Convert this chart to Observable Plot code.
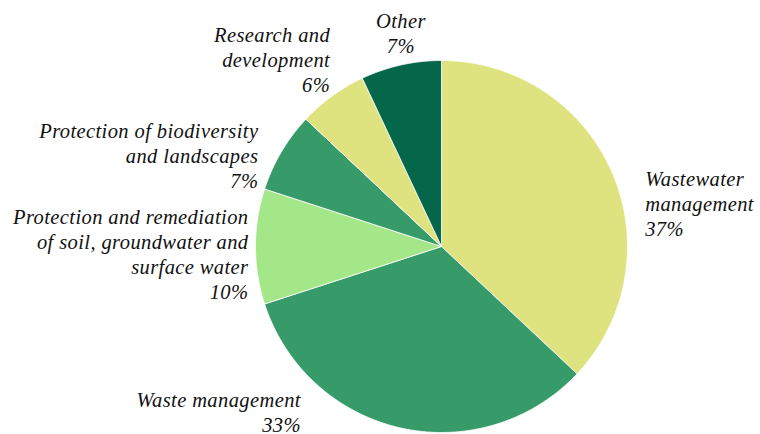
<!DOCTYPE html>
<html>
<head>
<meta charset="utf-8">
<script src="https://cdn.jsdelivr.net/npm/d3@7"></script>
<script src="https://cdn.jsdelivr.net/npm/@observablehq/plot@0.6"></script>
<style>
  html, body { margin: 0; padding: 0; background: #ffffff; }
  #chart { width: 760px; height: 434px; }
  #chart svg text { font-family: "Liberation Serif", "Times New Roman", Tinos, "DejaVu Serif", serif !important; }
</style>
</head>
<body>
<div id="chart"></div>
<script>
// ---- data ----
const categories = [
  "Wastewater management",
  "Waste management",
  "Protection and remediation of soil, groundwater and surface water",
  "Protection of biodiversity and landscapes",
  "Research and development",
  "Other"
];
const labelLines = [
  "Wastewater\nmanagement",
  "Waste management",
  "Protection and remediation\nof soil, groundwater and\nsurface water",
  "Protection of biodiversity\nand landscapes",
  "Research and\ndevelopment",
  "Other"
];
const shares = [37, 33, 10, 7, 6, 7];
const sliceColors = ["#dfe37f", "#379b69", "#a3e789", "#379b69", "#dfe37f", "#05674a"];

// label layout (Excel-style placement relative to slice edge midpoint)
const labelAnchor = ["start", "end", "end", "end", "end", "middle"];
const labelDx = [33, -100, -7, -23, -2, 0];
const labelDy = [30, -17, 7, 3, -37, -32];

// ---- build slice polygons (angle clockwise from 12 o'clock) ----
const total = d3.sum(shares);
const pts = [];
const labelData = [];
let cum = 0;
categories.forEach((name, i) => {
  const a0 = (cum / total) * 2 * Math.PI;
  cum += shares[i];
  const a1 = (cum / total) * 2 * Math.PI;
  pts.push({name, x: 0, y: 0});
  const steps = Math.max(2, Math.ceil((a1 - a0) / (Math.PI / 360)));
  for (let k = 0; k <= steps; k++) {
    const a = a0 + (a1 - a0) * k / steps;
    pts.push({name, x: Math.sin(a), y: Math.cos(a)});
  }
  pts.push({name, x: 0, y: 0});
  const am = (a0 + a1) / 2;
  labelData.push({name, x: Math.sin(am), y: Math.cos(am), text: labelLines[i] + "\n" + shares[i] + "%"});
});

const textMarks = labelData.map((d, i) =>
  Plot.text([d], {
    x: "x", y: "y", text: "text",
    textAnchor: labelAnchor[i], lineAnchor: "middle",
    dx: labelDx[i], dy: labelDy[i],
    fontFamily: "Liberation Serif",
    fontSize: 20.5, fontStyle: "italic", lineHeight: 1.22,
    fill: "#111111"
  })
);

const chart = Plot.plot({
  width: 760,
  height: 434,
  marginLeft: 255,
  marginRight: 133,
  marginTop: 60,
  marginBottom: 2,
  x: {domain: [-1, 1], axis: null},
  y: {domain: [-1, 1], axis: null},
  color: {domain: categories, range: sliceColors},
  style: {background: "#ffffff", overflow: "visible"},
  marks: [
    Plot.line(pts, {x: "x", y: "y", z: "name", fill: "name", stroke: "#ffffff", strokeWidth: 0.8}),
    ...textMarks
  ]
});
chart.querySelectorAll("text").forEach(t => t.style.letterSpacing = "0.4px");
document.getElementById("chart").appendChild(chart);
</script>
</body>
</html>
